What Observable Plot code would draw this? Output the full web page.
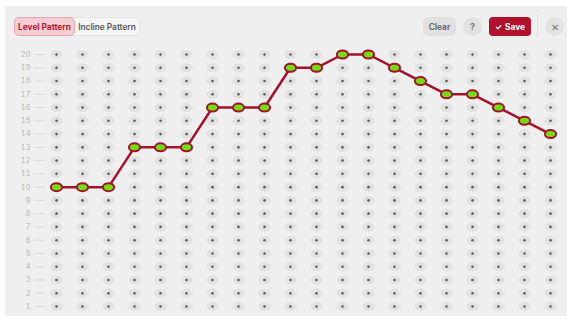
<!DOCTYPE html>
<html>
<head>
<meta charset="utf-8">
<script src="https://cdn.jsdelivr.net/npm/d3@7"></script>
<script src="https://cdn.jsdelivr.net/npm/@observablehq/plot@0.6"></script>
<style>
  html, body { margin: 0; padding: 0; background: #ffffff; }
  #wrap { position: relative; width: 567px; height: 320px; overflow: hidden; font-family: Inter, "Noto Sans", sans-serif; }
  #panel { position: absolute; left: 5px; top: 6px; width: 562px; height: 310px; background: #efefef; }
  .btn { position: absolute; box-sizing: border-box; display: flex; align-items: center; justify-content: center; font-weight: 700; font-size: 8.3px; white-space: nowrap; }
  #seg { position: absolute; left: 14px; top: 17px; width: 126px; height: 19px; box-sizing: border-box; border: 1px solid #e3e3e3; border-radius: 5px; background: #f6f6f6; }
  #chart { position: absolute; left: 0; top: 40px; }
</style>
</head>
<body>
<div id="wrap">
  <div id="panel"></div>
  <div id="seg"></div>
  <div class="btn" style="left:14px;top:17px;width:61px;height:19px;background:#f4ced4;border:1px solid #e6a3ae;border-radius:5px;color:#b21a33;">Level Pattern</div>
  <div class="btn" style="left:75px;top:17px;width:64px;height:19px;color:#595959;font-weight:600;">Incline Pattern</div>
  <div class="btn" style="left:423px;top:17px;width:33px;height:19px;background:#e1e1e1;border-radius:5px;color:#6a6a6a;">Clear</div>
  <div class="btn" style="left:463px;top:17px;width:19px;height:19px;background:#e1e1e1;border-radius:50%;color:#777;font-size:9px;">?</div>
  <div class="btn" style="left:489px;top:17px;width:42px;height:19px;background:#b0112b;border-radius:4px;color:#ffffff;"><span style="font-size:8px;margin-right:3px;">✓</span>Save</div>
  <div style="position:absolute;left:537px;top:15px;width:1px;height:22px;background:#dddddd;"></div>
  <div class="btn" style="left:545px;top:17px;width:19px;height:19px;background:#e2e2e2;border-radius:50%;color:#7a7a7a;font-size:10px;font-weight:400;">✕</div>
  <div id="chart"></div>
</div>
<script>
// Data
const steps = [1, 2, 3, 4, 5, 6, 7, 8, 9, 10, 11, 12, 13, 14, 15, 16, 17, 18, 19, 20];
const levels = [1, 2, 3, 4, 5, 6, 7, 8, 9, 10, 11, 12, 13, 14, 15, 16, 17, 18, 19, 20];
const pattern = [10, 10, 10, 13, 13, 13, 16, 16, 16, 19, 19, 20, 20, 19, 18, 17, 17, 16, 15, 14];

const grid = steps.flatMap(s => levels.map(l => ({step: s, level: l})));
const path = steps.map((s, i) => ({step: s, level: pattern[i]}));

function ellipse(rx, ry) {
  const k = 0.5523;
  return {
    draw(c) {
      c.moveTo(rx, 0);
      c.bezierCurveTo(rx, k * ry, k * rx, ry, 0, ry);
      c.bezierCurveTo(-k * rx, ry, -rx, k * ry, -rx, 0);
      c.bezierCurveTo(-rx, -k * ry, -k * rx, -ry, 0, -ry);
      c.bezierCurveTo(k * rx, -ry, rx, -k * ry, rx, 0);
      c.closePath();
    }
  };
}

const chart = Plot.plot({
  width: 567,
  height: 280,
  marginLeft: 45,
  marginRight: 17,
  marginTop: 14,
  marginBottom: 14,
  style: {background: "transparent", fontFamily: "Inter, sans-serif"},
  x: {domain: [1, 20], insetLeft: 11, axis: null},
  y: {domain: [1, 20], label: null},
  marks: [
    Plot.axisY({ticks: levels, label: null, tickSize: 11, tickPadding: 4, stroke: "#d8d8d8", fill: "#b8b8b8", fontSize: 7.5, tickFormat: d => String(d)}),
    Plot.dot(grid, {x: "step", y: "level", symbol: ellipse(6, 4.5), fill: "#e2e2e2", stroke: "none"}),
    Plot.dot(grid, {x: "step", y: "level", r: 1.3, fill: "#5a5a5a", stroke: "none"}),
    Plot.line(path, {x: "step", y: "level", stroke: "#a3122b", strokeWidth: 2.5}),
    Plot.dot(path, {x: "step", y: "level", symbol: ellipse(5.6, 4), fill: "#74dc10", stroke: "#a3122b", strokeWidth: 2})
  ]
});
document.getElementById("chart").appendChild(chart);
</script>
</body>
</html>
